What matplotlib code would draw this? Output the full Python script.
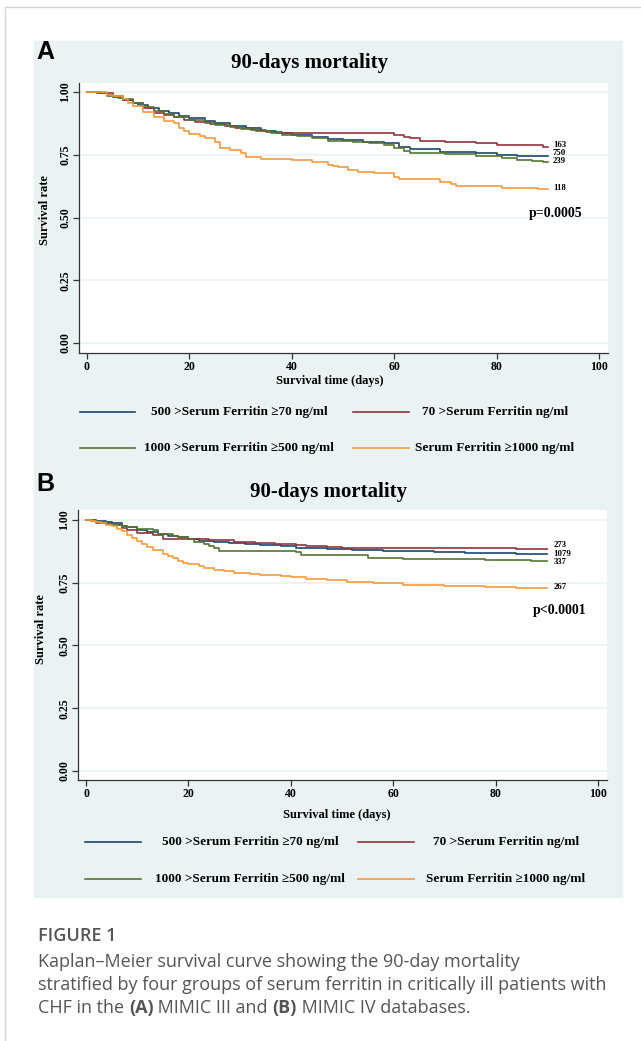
import matplotlib
matplotlib.use('Agg')
import matplotlib.pyplot as plt
from matplotlib.patches import Rectangle
from matplotlib.lines import Line2D
from matplotlib.text import Annotation

W, H = 641, 1041

# ---- data: Kaplan-Meier step points (day, survival) ----
groups = ['500 >Serum Ferritin \u226570 ng/ml', '70 >Serum Ferritin ng/ml',
          '1000 >Serum Ferritin \u2265500 ng/ml', 'Serum Ferritin \u22651000 ng/ml']
colors = ['#1A476F', '#90353B', '#55752F', '#F39A3C']

# panel A (MIMIC III)
a_blue_t = [0, 2, 4, 5, 7, 9, 10, 12, 14, 16, 18, 20, 23, 25, 28, 31, 34, 37, 40, 44, 47, 50, 54, 58, 61, 63, 69, 76, 80, 84, 90]
a_blue_s = [1, 0.995, 0.988, 0.98, 0.967, 0.955, 0.95, 0.935, 0.925, 0.916, 0.905, 0.896, 0.885, 0.876, 0.865, 0.855, 0.845,
            0.836, 0.83, 0.82, 0.812, 0.807, 0.802, 0.795, 0.782, 0.772, 0.762, 0.756, 0.748, 0.745, 0.745]
a_red_t = [0, 3, 5, 7, 9, 11, 13, 15, 17, 19, 21, 24, 27, 29, 32, 35, 38, 60, 62, 63, 65, 70, 76, 80, 89, 90]
a_red_s = [1, 0.995, 0.985, 0.97, 0.955, 0.935, 0.918, 0.908, 0.9, 0.888, 0.88, 0.872, 0.865, 0.857, 0.848, 0.842, 0.835,
           0.829, 0.822, 0.815, 0.805, 0.802, 0.796, 0.789, 0.782, 0.782]
a_green_t = [0, 2, 4, 6, 7, 9, 11, 13, 15, 17, 20, 23, 25, 28, 30, 33, 36, 38, 41, 44, 47, 52, 55, 58, 60, 62, 63, 70, 76,
             81, 84, 87, 89, 90]
a_green_s = [1, 0.995, 0.985, 0.978, 0.972, 0.955, 0.94, 0.925, 0.912, 0.902, 0.89, 0.878, 0.87, 0.862, 0.852, 0.845, 0.836,
             0.83, 0.823, 0.815, 0.806, 0.8, 0.796, 0.788, 0.776, 0.765, 0.758, 0.753, 0.745, 0.736, 0.729, 0.724, 0.72, 0.72]
a_orange_t = [0, 4, 5, 7, 8, 9, 11, 13, 15, 17, 18, 19, 20, 22, 23, 25, 26, 28, 30, 31, 34, 40, 44, 47, 48, 49, 51, 53, 56,
              60, 61, 69, 71, 72, 81, 88, 90]
a_orange_s = [1, 0.99, 0.985, 0.972, 0.955, 0.945, 0.92, 0.9, 0.885, 0.876, 0.855, 0.845, 0.832, 0.825, 0.815, 0.8, 0.775,
              0.768, 0.755, 0.74, 0.733, 0.728, 0.722, 0.71, 0.706, 0.7, 0.69, 0.68, 0.676, 0.662, 0.652, 0.643, 0.633,
              0.625, 0.619, 0.613, 0.613]
a_counts = ['750', '163', '239', '118']
a_count_y = [0.758, 0.79, 0.725, 0.619]

# panel B (MIMIC IV)
b_blue_t = [0, 2, 4, 5, 7, 8, 10, 12, 14, 16, 18, 20, 22, 25, 28, 31, 34, 38, 41, 44, 47, 52, 58, 62, 68, 74, 80, 84, 90]
b_blue_s = [1, 0.997, 0.992, 0.988, 0.978, 0.972, 0.962, 0.953, 0.945, 0.938, 0.932, 0.925, 0.918, 0.913, 0.909, 0.905,
            0.9, 0.895, 0.89, 0.887, 0.884, 0.88, 0.877, 0.875, 0.872, 0.87, 0.867, 0.865, 0.864]
b_red_t = [0, 1, 2, 4, 5, 7, 8, 10, 13, 15, 21, 24, 29, 33, 37, 41, 43, 47, 50, 84, 90]
b_red_s = [1, 0.995, 0.989, 0.984, 0.98, 0.97, 0.96, 0.947, 0.94, 0.926, 0.924, 0.92, 0.913, 0.91, 0.904, 0.9, 0.896,
           0.893, 0.89, 0.884, 0.884]
b_green_t = [0, 2, 4, 5, 7, 8, 10, 13, 14, 17, 18, 20, 21, 23, 24, 25, 26, 41, 42, 55, 62, 78, 87, 90]
b_green_s = [1, 0.993, 0.985, 0.98, 0.975, 0.971, 0.965, 0.96, 0.944, 0.938, 0.933, 0.925, 0.913, 0.905, 0.896, 0.887,
             0.877, 0.873, 0.86, 0.85, 0.846, 0.842, 0.837, 0.837]
b_orange_t = [0, 1, 2, 3, 4, 5, 6, 7, 8, 9, 10, 11, 12, 13, 15, 16, 17, 18, 19, 20, 22, 23, 25, 27, 29, 32, 34, 38, 40, 43,
              47, 51, 56, 62, 70, 78, 84, 90]
b_orange_s = [1, 0.997, 0.993, 0.988, 0.982, 0.975, 0.965, 0.955, 0.942, 0.93, 0.918, 0.905, 0.892, 0.88, 0.866, 0.856,
              0.848, 0.838, 0.83, 0.824, 0.815, 0.81, 0.8, 0.795, 0.789, 0.785, 0.782, 0.777, 0.774, 0.766, 0.759, 0.753,
              0.75, 0.742, 0.737, 0.733, 0.73, 0.73]
b_counts = ['1079', '273', '337', '267']
b_count_y = [0.866, 0.9, 0.833, 0.733]

x_ticks = [0, 20, 40, 60, 80, 100]
y_ticks = [0.0, 0.25, 0.5, 0.75, 1.0]
y_ticklabels = ['0.00', '0.25', '0.50', '0.75', '1.00']

BG = '#EAF2F3'
SERIF = 'Liberation Serif'
CAP = '#555555'
CAP_FS = 13


def fx(x):
    return x / W


def fy(y):
    return 1 - y / H


fig = plt.figure(figsize=(W / 100, H / 100), dpi=100)

# outer frame lines and panel background
fig.add_artist(Line2D([fx(5), 1], [fy(7), fy(7)], color='#D5D5D5', lw=1))
fig.add_artist(Line2D([fx(5), fx(5)], [fy(7), 0], color='#D5D5D5', lw=1))
fig.add_artist(Rectangle((fx(34), fy(897)), fx(622) - fx(34), fy(41) - fy(897), color=BG, zorder=0))


def panel(top, bottom, left, right, x0px, y0px, y1px, series, counts, count_y, count_x,
          pval, pxy, title, title_xy, letter, letter_xy, ylab_xy, xlab_xy, leg):
    ax = fig.add_axes([fx(left), fy(bottom), fx(right) - fx(left), fy(top) - fy(bottom)])
    ppd = 5.12  # pixels per day
    ax.set_xlim((left - x0px) / ppd, (right - x0px) / ppd)
    ppu = y0px - y1px  # pixels per unit survival
    ax.set_ylim(-(bottom - y0px) / ppu, 1 + (y1px - top) / ppu)
    for (t, s), c in zip(series, colors):
        ax.step(t, s, where='post', color=c, lw=1.2)
    for lab, yy in zip(counts, count_y):
        ax.text(count_x, yy, lab, fontsize=6.3, fontweight='bold', family=SERIF, va='center', ha='left')
    ax.text(pxy[0], pxy[1], pval, fontsize=10, fontweight='bold', family=SERIF, ha='center', va='center')
    ax.set_xticks(x_ticks)
    ax.set_yticks(y_ticks)
    ax.set_yticklabels(y_ticklabels, rotation=90, va='center')
    for lab in ax.get_xticklabels() + ax.get_yticklabels():
        lab.set_fontfamily(SERIF)
        lab.set_fontweight('bold')
        lab.set_fontsize(8.5)
    ax.tick_params(direction='out', length=4, width=0.9, color='#333333', pad=1.5)
    ax.grid(axis='y', color=BG, lw=1.2)
    ax.set_axisbelow(True)
    for sp in ['top', 'right']:
        ax.spines[sp].set_visible(False)
    for sp in ['left', 'bottom']:
        ax.spines[sp].set_color('#333333')
        ax.spines[sp].set_linewidth(0.9)

    fig.text(fx(title_xy[0]), fy(title_xy[1]), title, fontsize=15, fontweight='bold', family=SERIF, ha='center', va='center')
    fig.text(fx(letter_xy[0]), fy(letter_xy[1]), letter, fontsize=18, fontweight='bold', family='Liberation Sans',
             ha='left', va='center')
    fig.text(fx(ylab_xy[0]), fy(ylab_xy[1]), 'Survival rate', fontsize=9, fontweight='bold', family=SERIF,
             rotation=90, ha='center', va='center')
    fig.text(fx(xlab_xy[0]), fy(xlab_xy[1]), 'Survival time (days)', fontsize=9, fontweight='bold', family=SERIF,
             ha='center', va='center')
    # legend (two columns, text centred in each key box)
    for i, (g, c) in enumerate(zip(groups, colors)):
        col, row = i % 2, i // 2
        lx0, lx1 = leg['line'][col]
        tx = leg['text'][col]
        yy = leg['rows'][row]
        fig.add_artist(Line2D([fx(lx0), fx(lx1)], [fy(yy), fy(yy)], color=c, lw=1.2))
        fig.text(fx(tx), fy(yy), g, fontsize=9.5, fontweight='bold', family=SERIF, ha='center', va='center')
    return ax


series_a = [(a_blue_t, a_blue_s), (a_red_t, a_red_s), (a_green_t, a_green_s), (a_orange_t, a_orange_s)]
series_b = [(b_blue_t, b_blue_s), (b_red_t, b_red_s), (b_green_t, b_green_s), (b_orange_t, b_orange_s)]

panel(83, 353, 79, 608, 87, 343, 92, series_a, a_counts, a_count_y, 91.0,
      'p=0.0005', (91.6, 0.517), '90-days mortality', (310, 63), 'A', (36, 52), (45, 210), (330, 381),
      {'line': [(80, 135), (353, 409)], 'text': [239, 495], 'rows': [412, 448]})
panel(510, 780, 78, 607, 86, 771, 520, series_b, b_counts, b_count_y, 91.3,
      'p<0.0001', (92.6, 0.64), '90-days mortality', (329, 492), 'B', (36, 484), (41, 629), (337, 815),
      {'line': [(85, 141), (358, 414)], 'text': [250, 506], 'rows': [842, 879]})

# caption
fig.text(fx(38), fy(936), 'FIGURE 1', fontsize=CAP_FS, family='Open Sans', fontweight='semibold', color=CAP, va='center')
fig.text(fx(38), fy(962), 'Kaplan\u2013Meier survival curve showing the 90-day mortality', fontsize=CAP_FS,
         family='Open Sans', color=CAP, va='center')
fig.text(fx(38), fy(985), 'stratified by four groups of serum ferritin in critically ill patients with', fontsize=CAP_FS,
         family='Open Sans', color=CAP, va='center')
parts = [('CHF in the ', 'normal'), ('(A)', 'bold'), (' MIMIC III and ', 'normal'), ('(B)', 'bold'),
         (' MIMIC IV databases.', 'normal')]
anchor = fig.text(fx(38), fy(1008), parts[0][0], fontsize=CAP_FS, family='Open Sans', color=CAP, va='center')
for txt, wt in parts[1:]:
    anchor = fig.add_artist(Annotation(txt, xy=(1, 0), xycoords=anchor, va='bottom', ha='left',
                                       fontsize=CAP_FS, family='Open Sans', color=CAP, fontweight=wt))

fig.savefig('out.png', dpi=100)
